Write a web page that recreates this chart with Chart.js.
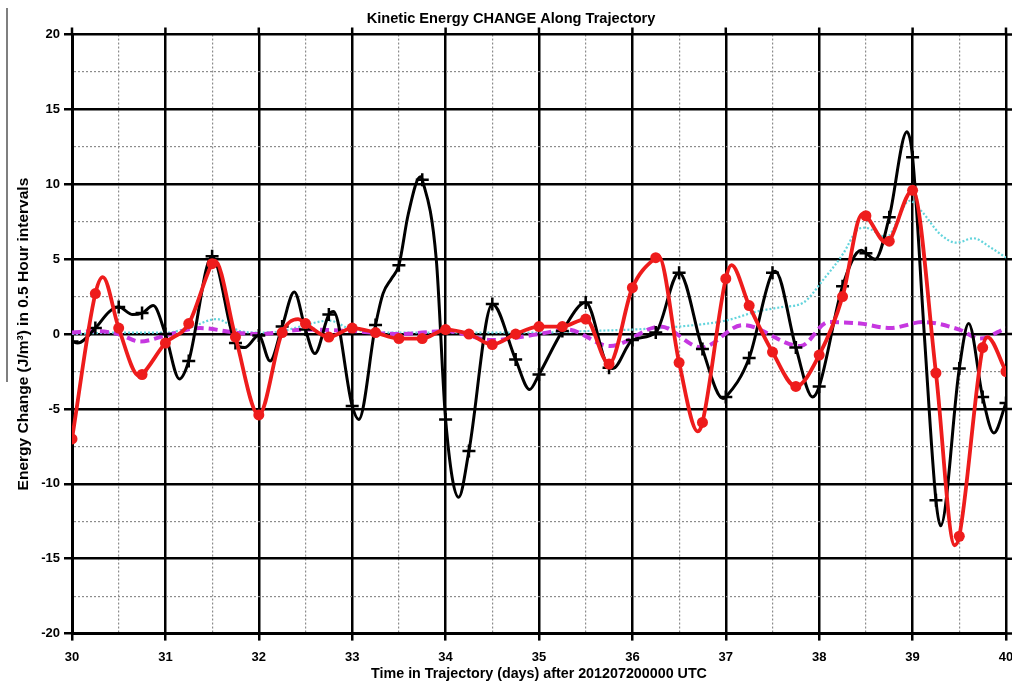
<!DOCTYPE html>
<html>
<head>
<meta charset="utf-8">
<title>Kinetic Energy CHANGE Along Trajectory</title>
<script src="https://cdn.jsdelivr.net/npm/chart.js@4/dist/chart.umd.min.js"></script>
<style>
  html, body { margin: 0; padding: 0; background: #fff; }
  #wrap { position: relative; width: 1012px; height: 682px; }
</style>
</head>
<body>
<div id="wrap"><canvas id="ke-chart"></canvas></div>
<script>
// black curve, "+" marker every 6 hours
const blackDays = [
  30.0, 30.06, 30.25, 30.4, 30.5, 30.65, 30.75, 30.87, 31.0, 31.15,
  31.25, 31.5, 31.75, 31.85, 32.0, 32.12, 32.25, 32.38, 32.5, 32.6,
  32.75, 32.8, 33.0, 33.07, 33.25, 33.33, 33.42, 33.5, 33.6, 33.73,
  33.75, 33.9, 34.0, 34.14, 34.25, 34.5, 34.75, 34.9, 35.0, 35.25,
  35.5, 35.75, 35.79, 36.0, 36.25, 36.5, 36.75, 36.97, 37.0, 37.25,
  37.5, 37.53, 37.75, 37.93, 38.0, 38.25, 38.45, 38.5, 38.6, 38.75,
  38.94, 39.0, 39.125, 39.25, 39.3, 39.5, 39.6, 39.75, 39.87, 40.0
];
const blackValues = [
  -0.5, -0.6, 0.4, 1.5, 1.8, 1.3, 1.4, 1.9, 0.0, -3.0,
  -1.8, 5.2, -0.6, -0.9, -0.1, -1.8, 0.5, 2.8, 0.3, -1.3,
  1.3, 1.5, -4.8, -5.7, 0.6, 2.7, 3.7, 4.6, 8.0, 10.5,
  10.3, 5.0, -5.7, -10.9, -7.8, 2.0, -1.7, -3.7, -2.7, 0.2,
  2.1, -2.25, -2.3, -0.4, 0.1, 4.1, -1.0, -4.3, -4.2, -1.6,
  4.1, 4.2, -0.9, -4.2, -3.5, 3.2, 5.6, 5.4, 5.0, 7.8,
  13.5, 11.8, 0.0, -11.1, -12.8, -2.3, 0.7, -4.2, -6.6, -4.6
];

// red curve, filled circle every 6 hours
const redDays = [
  30.0, 30.25, 30.33, 30.5, 30.72, 30.75, 31.0, 31.25, 31.5, 31.53,
  31.75, 32.0, 32.25, 32.42, 32.5, 32.75, 33.0, 33.25, 33.5, 33.75,
  34.0, 34.25, 34.5, 34.75, 35.0, 35.25, 35.5, 35.75, 36.0, 36.25,
  36.28, 36.5, 36.7, 36.75, 37.0, 37.06, 37.25, 37.5, 37.75, 38.0,
  38.25, 38.46, 38.5, 38.72, 38.75, 39.0, 39.25, 39.45, 39.5, 39.75,
  39.8, 40.0
];
const redValues = [
  -7.0, 2.7, 3.8, 0.4, -2.8, -2.7, -0.6, 0.7, 4.7, 4.9,
  -0.2, -5.4, 0.1, 1.0, 0.7, -0.2, 0.4, 0.1, -0.3, -0.3,
  0.3, 0.0, -0.7, 0.0, 0.5, 0.5, 1.0, -2.0, 3.1, 5.1,
  5.2, -1.9, -6.5, -5.9, 3.7, 4.6, 1.9, -1.2, -3.5, -1.4,
  2.5, 8.0, 7.9, 6.1, 6.2, 9.6, -2.6, -14.1, -13.5, -0.9,
  -0.2, -2.5
];

// cyan dotted curve
const cyanDays = [
  30.0, 30.5, 31.0, 31.25, 31.55, 31.8, 32.0, 32.25, 32.5, 32.75,
  33.0, 33.5, 34.0, 34.5, 35.0, 35.5, 36.0, 36.5, 37.0, 37.33,
  37.6, 37.83, 38.04, 38.26, 38.4, 38.49, 38.72, 38.97, 39.11, 39.29,
  39.47, 39.65, 39.83, 40.0
];
const cyanValues = [
  0.0, 0.1, 0.1, 0.4, 1.0, 0.2, 0.1, 0.2, 0.6, 0.9,
  0.3, 0.1, 0.1, 0.1, 0.1, 0.2, 0.3, 0.5, 0.9, 1.5,
  1.8, 2.1, 3.6, 5.4, 6.9, 7.1, 6.5, 8.9, 8.1, 6.7,
  6.1, 6.4, 5.8, 5.1
];

// magenta dashed curve
const magentaDays = [
  30.0, 30.25, 30.5, 30.73, 31.0, 31.37, 31.75, 32.0, 32.5, 33.0,
  33.5, 34.0, 34.5, 35.0, 35.3, 35.76, 36.3, 36.74, 37.18, 37.8,
  38.1, 38.44, 38.76, 39.11, 39.5, 39.72, 40.0
];
const magentaValues = [
  0.1, 0.2, 0.0, -0.5, -0.1, 0.4, 0.1, 0.0, 0.3, 0.2,
  0.0, 0.2, -0.4, 0.0, 0.3, -0.8, 0.5, -0.9, 0.6, -0.8,
  0.8, 0.7, 0.4, 0.8, 0.3, -0.3, 0.4
];

const FONT = "'Liberation Sans', Arial, Helvetica, sans-serif";

function toPoints(days, values) {
  return days.map((d, i) => ({ x: d, y: values[i] }));
}

// markers only on the 6-hourly samples
function isMarkerDay(d) {
  return Math.abs(d * 4 - Math.round(d * 4)) < 1e-6;
}

const isMajorX = v => Math.abs(v - Math.round(v)) < 1e-6;
const isMajorY = v => Math.abs(v / 5 - Math.round(v / 5)) < 1e-6;

// outward stubs on top and right edges, plus the thin rule at far left
const frameStubs = {
  id: 'frameStubs',
  afterDraw(chart) {
    const { ctx, chartArea: a, scales: { x, y } } = chart;
    ctx.save();
    ctx.strokeStyle = '#000';
    ctx.lineWidth = 2.5;
    ctx.beginPath();
    x.ticks.forEach(t => {
      if (isMajorX(t.value)) {
        const px = x.getPixelForValue(t.value);
        ctx.moveTo(px, a.top - 7);
        ctx.lineTo(px, a.top);
      }
    });
    y.ticks.forEach(t => {
      if (isMajorY(t.value)) {
        const py = y.getPixelForValue(t.value);
        ctx.moveTo(a.right, py);
        ctx.lineTo(a.right + 6, py);
      }
    });
    ctx.stroke();

    ctx.strokeStyle = '#555';
    ctx.lineWidth = 1.5;
    ctx.beginPath();
    ctx.moveTo(7, 8);
    ctx.lineTo(7, 382);
    ctx.stroke();
    ctx.restore();
  }
};

new Chart(document.getElementById('ke-chart'), {
  type: 'line',
  data: {
    datasets: [
      {
        label: 'red',
        data: toPoints(redDays, redValues),
        borderColor: '#ee1c1c',
        backgroundColor: '#ee1c1c',
        borderWidth: 3.8,
        cubicInterpolationMode: 'monotone',
        pointStyle: 'circle',
        pointRadius: ctx => (ctx.raw && isMarkerDay(ctx.raw.x) ? 5.5 : 0),
        pointBorderWidth: 0,
        fill: false
      },
      {
        label: 'black',
        data: toPoints(blackDays, blackValues),
        borderColor: '#000',
        backgroundColor: '#000',
        borderWidth: 3,
        cubicInterpolationMode: 'monotone',
        pointStyle: 'cross',
        pointRadius: ctx => (ctx.raw && isMarkerDay(ctx.raw.x) ? 6.5 : 0),
        pointBorderWidth: 2.5,
        fill: false
      },
      {
        label: 'magenta',
        data: toPoints(magentaDays, magentaValues),
        borderColor: '#c637e0',
        borderWidth: 4,
        borderDash: [9, 5],
        cubicInterpolationMode: 'monotone',
        pointRadius: 0,
        fill: false
      },
      {
        label: 'cyan',
        data: toPoints(cyanDays, cyanValues),
        borderColor: '#63d4dc',
        borderWidth: 2.2,
        borderDash: [2, 2],
        cubicInterpolationMode: 'monotone',
        pointRadius: 0,
        fill: false
      }
    ]
  },
  options: {
    responsive: true,
    maintainAspectRatio: false,
    animation: false,
    events: [],
    layout: { autoPadding: false, padding: { left: 10, right: 0, top: 0, bottom: 0 } },
    plugins: {
      legend: { display: false },
      tooltip: { enabled: false },
      title: {
        display: true,
        text: 'Kinetic Energy CHANGE Along Trajectory',
        color: '#000',
        font: { family: FONT, size: 14.6, weight: 'bold' },
        padding: { top: 10, bottom: 7 }
      }
    },
    scales: {
      x: {
        type: 'linear',
        min: 30,
        max: 40,
        afterFit: scale => { scale.paddingRight = 6; },
        ticks: {
          stepSize: 0.5,
          maxTicksLimit: 100,
          autoSkip: false,
          maxRotation: 0,
          padding: 10,
          color: '#000',
          font: { family: FONT, size: 13, weight: 'bold', lineHeight: 1 },
          callback: v => (isMajorX(v) ? String(Math.round(v)) : '')
        },
        grid: {
          color: ctx => (ctx.tick && isMajorX(ctx.tick.value) ? '#000' : '#8c8c8c'),
          lineWidth: ctx => (ctx.tick && isMajorX(ctx.tick.value) ? 2.5 : 1.2),
          tickColor: ctx => (ctx.tick && isMajorX(ctx.tick.value) ? '#000' : 'rgba(0,0,0,0)'),
          tickLength: 7,
          tickWidth: 2.5
        },
        border: {
          color: '#000',
          width: 3,
          dash: ctx => (ctx.tick && !isMajorX(ctx.tick.value) ? [2, 2] : [])
        },
        title: {
          display: true,
          text: 'Time in Trajectory (days) after 201207200000 UTC',
          color: '#000',
          font: { family: FONT, size: 14.3, weight: 'bold', lineHeight: 1 },
          padding: { top: -6.3, bottom: 0.4 }
        }
      },
      y: {
        type: 'linear',
        min: -20,
        max: 20,
        afterFit: scale => { scale.width = 62; },
        ticks: {
          stepSize: 2.5,
          maxTicksLimit: 100,
          autoSkip: false,
          padding: 4,
          color: '#000',
          font: { family: FONT, size: 13, weight: 'bold' },
          callback: v => (isMajorY(v) ? String(Math.round(v)) : '')
        },
        grid: {
          color: ctx => (ctx.tick && isMajorY(ctx.tick.value) ? '#000' : '#8c8c8c'),
          lineWidth: ctx => (ctx.tick && isMajorY(ctx.tick.value) ? 2.5 : 1.2),
          tickColor: ctx => (ctx.tick && isMajorY(ctx.tick.value) ? '#000' : 'rgba(0,0,0,0)'),
          tickLength: 8,
          tickWidth: 2.5
        },
        border: {
          color: '#000',
          width: 3,
          dash: ctx => (ctx.tick && !isMajorY(ctx.tick.value) ? [2, 2] : [])
        },
        title: {
          display: true,
          text: 'Energy Change (J/m\u00b3) in 0.5 Hour intervals',
          color: '#000',
          font: { family: FONT, size: 15.5, weight: 'bold' },
          padding: { top: 4, bottom: 4 }
        }
      }
    }
  },
  plugins: [frameStubs]
});
</script>
</body>
</html>
